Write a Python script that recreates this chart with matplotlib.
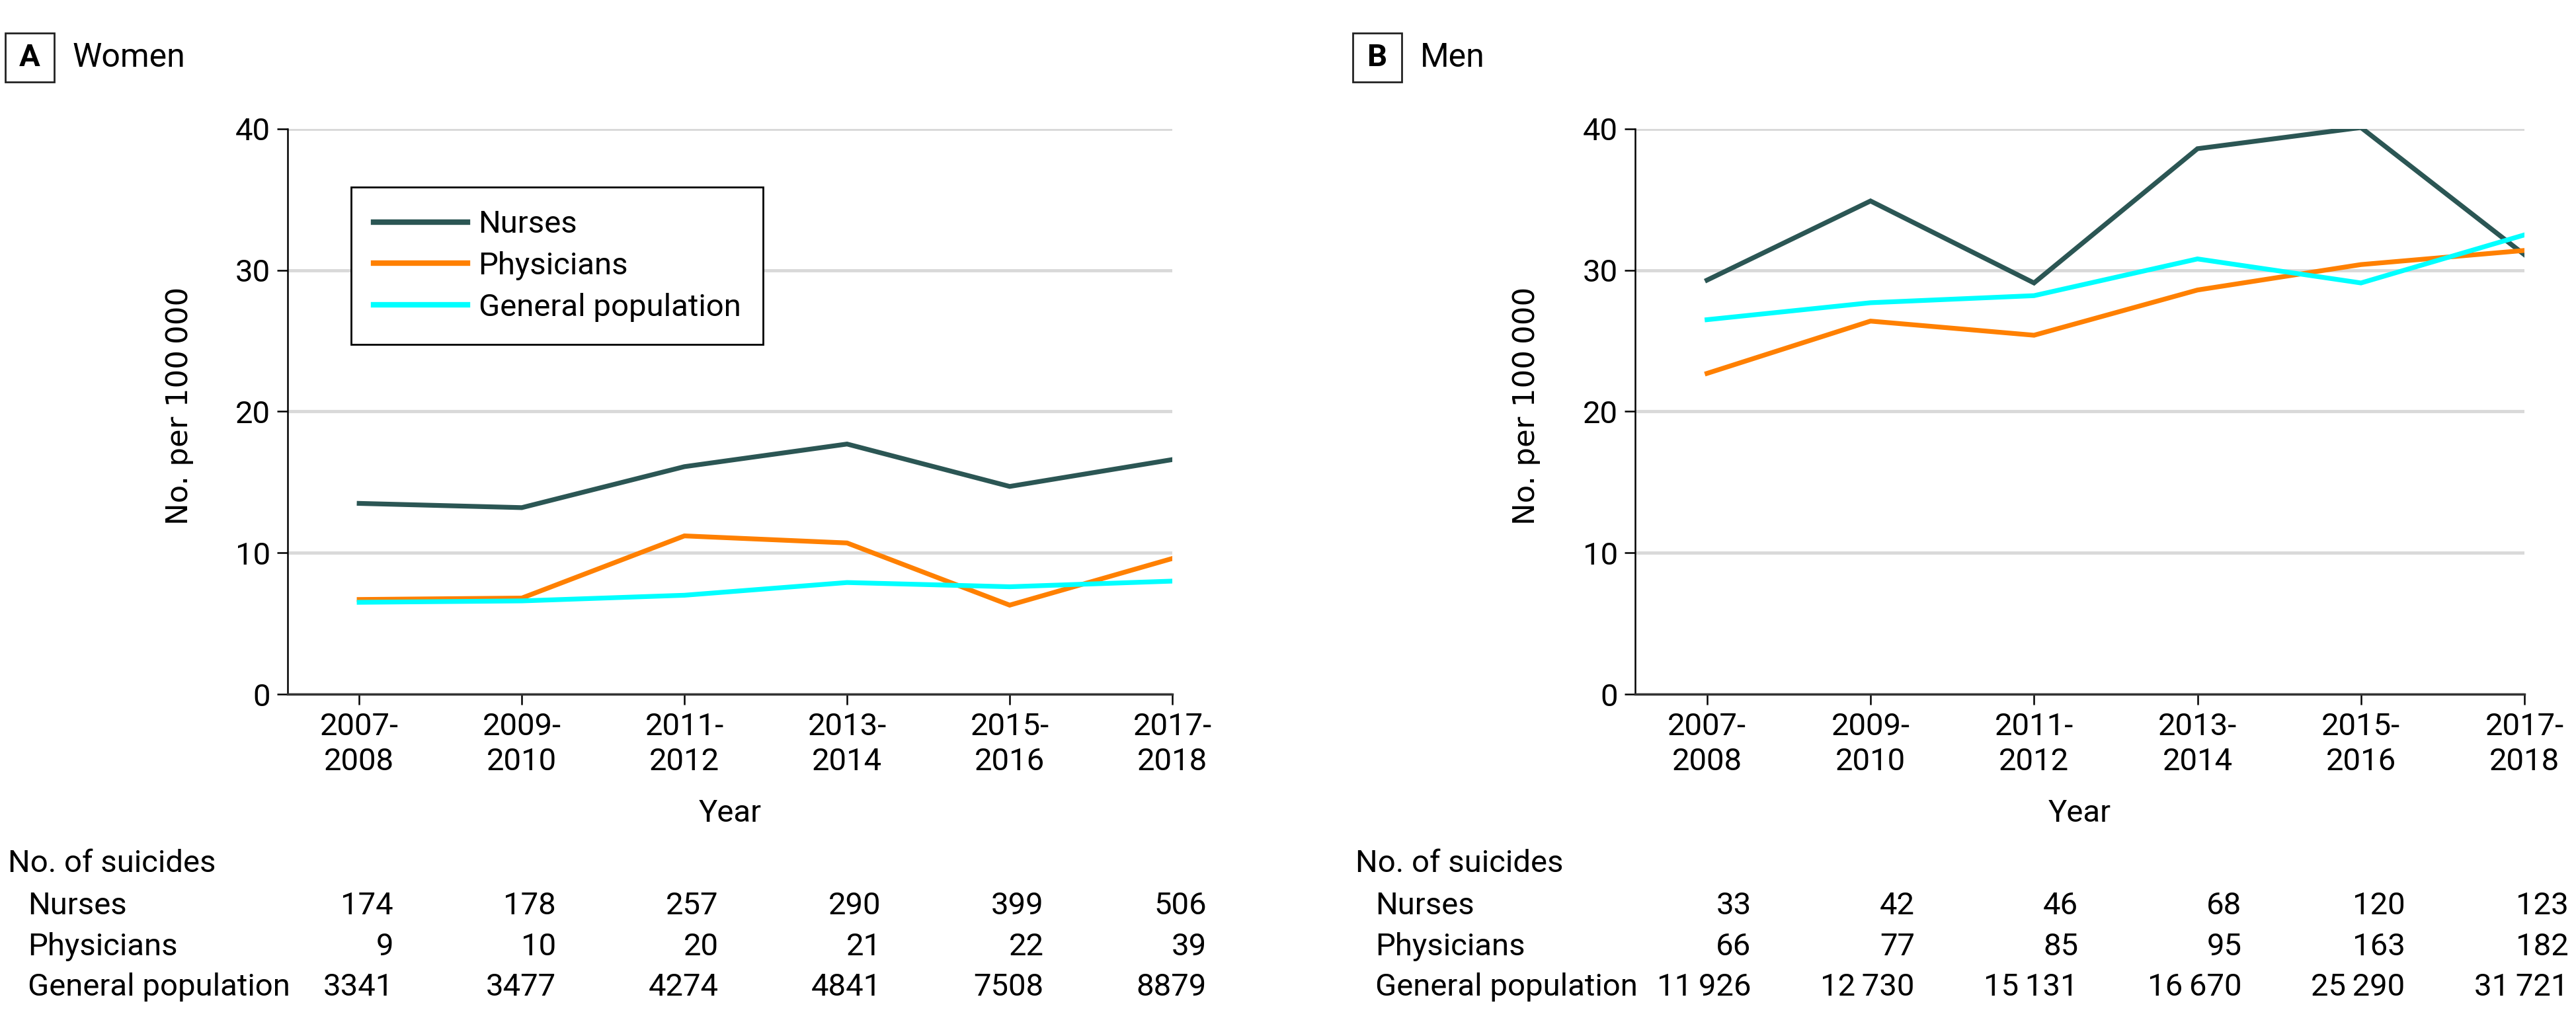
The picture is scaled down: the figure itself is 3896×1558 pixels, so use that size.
import matplotlib
matplotlib.use('Agg')
import matplotlib.pyplot as plt
import matplotlib.transforms as mtransforms
from matplotlib.patches import Rectangle

# Rates per 100 000
periods = ['2007-\n2008', '2009-\n2010', '2011-\n2012', '2013-\n2014', '2015-\n2016', '2017-\n2018']
women_nurses = [13.5, 13.2, 16.1, 17.7, 14.7, 16.6]
women_physicians = [6.7, 6.8, 11.2, 10.7, 6.3, 9.6]
women_general = [6.5, 6.6, 7.0, 7.9, 7.6, 8.0]
men_nurses = [29.3, 34.9, 29.1, 38.6, 40.1, 31.1]
men_physicians = [22.7, 26.4, 25.4, 28.6, 30.4, 31.4]
men_general = [26.5, 27.7, 28.2, 30.8, 29.1, 32.5]

# No. of suicides table
row_labels = ['Nurses', 'Physicians', 'General population']
women_counts = [['174', '178', '257', '290', '399', '506'],
                ['9', '10', '20', '21', '22', '39'],
                ['3341', '3477', '4274', '4841', '7508', '8879']]
men_counts = [['33', '42', '46', '68', '120', '123'],
              ['66', '77', '85', '95', '163', '182'],
              ['11\u2009926', '12\u2009730', '15\u2009131', '16\u2009670', '25\u2009290', '31\u2009721']]

series_names = ['Nurses', 'Physicians', 'General population']
colors = ['#2b5654', '#ff8000', '#00ffff']

FONT = 'Roboto'
FS = 34

plt.rcParams['font.family'] = [FONT, 'DejaVu Sans']

fig = plt.figure(figsize=(38.96, 15.58), dpi=100)
W, H = 3896, 1558


def draw_panel(left_px, right_px, letter, title, data, counts, val_offset, legend):
    ax = fig.add_axes([left_px / W, 1 - 1050 / H, (right_px - left_px) / W, (1050 - 195) / H])
    x = list(range(len(periods)))
    for vals, name, c in zip(data, series_names, colors):
        ax.plot(x, vals, color=c, lw=5.2, label=name, solid_joinstyle='miter', zorder=3)
    ax.set_xlim(-0.44, len(periods) - 1)
    ax.set_ylim(0, 40)
    ax.set_yticks([0, 10, 20, 30, 40])
    ax.set_xticks(x)
    ax.set_xticklabels(periods, linespacing=1.25)
    ax.yaxis.grid(True, color='#d9d9d9', lw=3.5, zorder=0)
    ax.set_axisbelow(True)
    for s in ['top', 'right']:
        ax.spines[s].set_visible(False)
    ax.spines['left'].set_linewidth(1.8)
    ax.spines['bottom'].set_linewidth(2.5)
    ax.spines['bottom'].set_color('#333333')
    ax.tick_params(axis='both', length=11.5, width=1.8, labelsize=FS, pad=7)
    ax.tick_params(axis='x', pad=8)
    ax.set_ylabel('No. per 100\u2009000', fontsize=32.5, family='DejaVu Sans')
    ax.yaxis.set_label_coords(-0.106, 0.51)
    ax.set_xlabel('Year', fontsize=FS)
    ax.xaxis.set_label_coords(0.5, -0.185)

    # panel header
    bx = left_px - 427
    fig.patches.append(Rectangle((bx / W, 1 - 124 / H), 74 / W, 74 / H,
                                 transform=fig.transFigure, fill=False,
                                 edgecolor='#222222', lw=2))
    fig.text((bx + 37) / W, 1 - 87 / H, letter, fontsize=FS, fontweight='bold',
             ha='center', va='center')
    fig.text((bx + 102) / W, 1 - 87 / H, title, fontsize=36, ha='left', va='center')

    # table of counts
    fig.text((bx + 4) / W, 1 - 1306 / H, 'No. of suicides', fontsize=FS, ha='left', va='center')
    trans = mtransforms.blended_transform_factory(ax.transData, fig.transFigure)
    row_y = [1370, 1432, 1493]
    for lab, row, yy in zip(row_labels, counts, row_y):
        fig.text((bx + 34) / W, 1 - yy / H, lab, fontsize=FS, ha='left', va='center')
        for i, v in enumerate(row):
            ax.text(i + val_offset, 1 - yy / H, v, transform=trans, fontsize=FS,
                    ha='right', va='center')

    if legend:
        leg = ax.legend(loc='upper left', bbox_to_anchor=(0.072, 0.897), borderaxespad=0,
                        fontsize=FS, handlelength=3.0, handletextpad=0.35,
                        labelspacing=0.4, borderpad=0.72, fancybox=False,
                        framealpha=1, edgecolor='black')
        leg.get_frame().set_linewidth(2)
        for h in leg.get_lines():
            h.set_linewidth(6)
    return ax


draw_panel(435, 1773, 'A', 'Women', [women_nurses, women_physicians, women_general],
           women_counts, 0.21, True)
draw_panel(2473, 3818, 'B', 'Men', [men_nurses, men_physicians, men_general],
           men_counts, 0.27, False)

fig.savefig('out.png', dpi=100)
